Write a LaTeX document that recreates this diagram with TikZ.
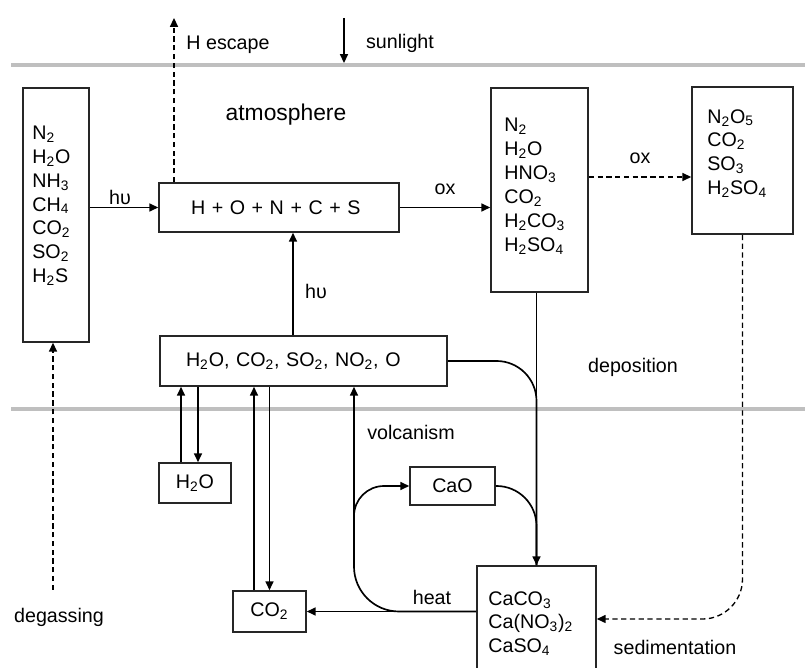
\documentclass[tikz,border=0pt]{standalone}
\usepackage{fontspec}
\setmainfont{Liberation Sans}
\usetikzlibrary{arrows.meta}
\newcommand{\sbs}[1]{\textsubscript{#1}}

\begin{document}
\begin{tikzpicture}[
        x=0.02cm, y=-0.02cm,
        font=\fontsize{11.2pt}{13.6pt}\selectfont,
        box/.style={rectangle, draw=black!85, line width=0.9pt, inner sep=0pt},
        list/.style={align=left, inner sep=0pt, anchor=north west},
        arrow/.style={-{Triangle[length=5pt,width=4.5pt]}, line width=0.95pt},
        dasharrow/.style={arrow, dash pattern=on 3pt off 2pt},
        link/.style={line width=0.95pt},
        ground/.style={line width=2.2pt, black!25},
        label/.style={inner sep=0pt}
    ]
        \useasboundingbox (0,0) rectangle (805,668);

        % Layer borders
        \draw[ground] (11,65) -- (805,65);
        \draw[ground] (11,409) -- (805,409);

        % Atmosphere boxes
        \node[box, minimum width=1.32cm, minimum height=5.08cm] (src) at (56,215) {};
        \node[list] (srclist) at (32,125.5) {N\sbs{2}\\H\sbs{2}O\\NH\sbs{3}\\CH\sbs{4}\\CO\sbs{2}\\SO\sbs{2}\\H\sbs{2}S};
        \node[box, minimum width=4.8cm, minimum height=0.98cm, text width=3.52cm, inner xsep=0.64cm, align=left] (atoms) at (279,207.5) {H + O + N + C + S};
        \node[box, minimum width=1.94cm, minimum height=4.08cm] (prod) at (539.5,190) {};
        \node[list] (prodlist) at (504,118) {N\sbs{2}\\H\sbs{2}O\\HNO\sbs{3}\\CO\sbs{2}\\H\sbs{2}CO\sbs{3}\\H\sbs{2}SO\sbs{4}};
        \node[box, minimum width=2.02cm, minimum height=2.94cm] (oxid) at (742.5,160.5) {};
        \node[list] (oxidlist) at (707,109) {N\sbs{2}O\sbs{5}\\CO\sbs{2}\\SO\sbs{3}\\H\sbs{2}SO\sbs{4}};
        \node[box, minimum width=5.74cm, minimum height=1.0cm, text width=4.7cm, inner xsep=0.52cm, align=left] (gas) at (303.5,361) {H\sbs{2}O, CO\sbs{2}, SO\sbs{2}, NO\sbs{2}, O};

        % Surface boxes
        \node[box, minimum width=1.44cm, minimum height=0.8cm] (ocean) at (195,483) {H\sbs{2}O};
        \node[box, minimum width=1.46cm, minimum height=0.82cm] (co2) at (269.5,611.5) {CO\sbs{2}};
        \node[box, minimum width=1.7cm, minimum height=0.76cm] (cao) at (452.5,486) {CaO};
        \node[box, minimum width=2.38cm, minimum height=2.12cm] (sed) at (536.5,619) {};
        \node[list] (sedlist) at (488,591) {CaCO\sbs{3}\\Ca(NO\sbs{3})\sbs{2}\\CaSO\sbs{4}};

        % Free ends
        \coordinate (hesc) at (174,18);
        \coordinate (sun) at (344,18);
        \coordinate (sky) at (344,63);
        \coordinate (degas) at (53,590);
        \coordinate (branch) at (354,560);

        % Arrows
        \draw[dasharrow] (atoms.north west -| hesc) -- (hesc);
        \draw[arrow] (sun) -- (sky);
        \draw[arrow] (src.east |- atoms.west) -- (atoms.west);
        \draw[arrow] (atoms.east) -- (atoms.east -| prod.west);
        \draw[dasharrow] ([yshift=0.26cm]prod.east) -- ([yshift=0.26cm]prod.east -| oxid.west);
        \draw[arrow] ([xshift=-0.21cm]gas.north) -- ([xshift=-0.21cm]gas.north |- atoms.south);
        \draw[dasharrow] (degas) -- (degas |- src.south);
        \draw[arrow] (prod.south -| sed.north) -- (sed.north);
        \draw[link, rounded corners=0.8cm] (gas.east) -| (sed.north);
        \draw[link, rounded corners=0.8cm] (cao.east) -| (sed.north);
        \draw[dasharrow, line width=0.75pt, rounded corners=0.8cm] (oxid.south) |- (sed.east);
        \draw[arrow] ([xshift=-0.28cm]ocean.north) -- ([xshift=-0.28cm]ocean.north |- gas.south);
        \draw[arrow] ([xshift=0.06cm]ocean.north |- gas.south) -- ([xshift=0.06cm]ocean.north);
        \draw[arrow] ([xshift=-0.31cm]co2.north) -- ([xshift=-0.31cm]co2.north |- gas.south);
        \draw[arrow] (co2.north |- gas.south) -- (co2.north);
        \draw[arrow] (co2.east -| sed.west) -- (co2.east);
        \draw[arrow, rounded corners=0.9cm] (co2.east -| sed.west) -| ([xshift=1.01cm]gas.south);
        \draw[arrow, rounded corners=0.6cm] (branch) |- (cao.west);

        % Labels
        \node[label] (hesclbl) at (228,45) {H escape};
        \node[label] (sunlbl) at (400,43) {sunlight};
        \node[label, font=\fontsize{13pt}{15pt}\selectfont] (atmlbl) at (286,115) {atmosphere};
        \node[label] (hv1) at (120,197) {hυ};
        \node[label] (hv2) at (316,291) {hυ};
        \node[label] (ox1) at (445,189) {ox};
        \node[label] (ox2) at (640,158) {ox};
        \node[label] (deplbl) at (633,367) {deposition};
        \node[label] (vollbl) at (411,432) {volcanism};
        \node[label] (heatlbl) at (432,597) {heat};
        \node[label] (deglbl) at (59,617) {degassing};
        \node[label] (sedlbl) at (675,647) {sedimentation};
\end{tikzpicture}
\end{document}
